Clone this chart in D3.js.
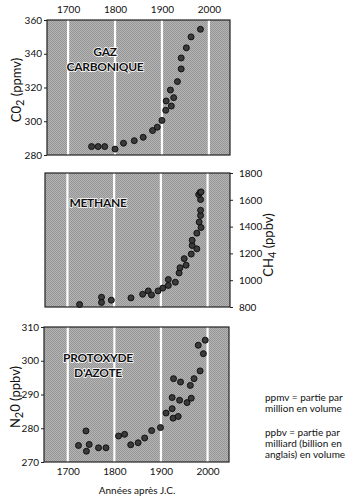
<!DOCTYPE html>
<html><head><meta charset="utf-8">
<script src="https://cdn.jsdelivr.net/npm/d3@7"></script>
<style>
body{margin:0;background:#fff;}
text{font-family:Lato,"Open Sans",sans-serif;fill:#111;}
</style></head>
<body><svg id="c" width="357" height="496"></svg>
<script>
const yearTicks = [1700, 1800, 1900, 2000];
const co2Years = [1750,1764,1778,1800,1818,1841,1860,1880,1890,1900,1908,1909,1920,1918,1925,1933,1941,1941,1952,1962,1982];
const co2Values = [285,285,285,283.5,287,288.5,290.5,294.5,296.5,300.5,306.5,312,309,318.5,314,323.5,331,337.5,343.5,350,354.5];
const co2Ticks = [280,300,320,340,360];
const ch4Years = [1726,1773,1773,1794,1836,1861,1873,1880,1894,1904,1916,1916,1931,1939,1941,1950,1954,1965,1967,1967,1977,1977,1982,1986,1985,1985,1985,1981,1984,1986];
const ch4Values = [819,873,834,851,868,895,920,890,920,941,961,1005,985,1054,1093,1161,1112,1195,1259,1298,1234,1351,1434,1393,1483,1522,1602,1639,1654,1659];
const ch4Ticks = [800,1000,1200,1400,1600,1800];
const n2oYears = [1723,1739,1740,1746,1766,1782,1809,1822,1835,1851,1865,1880,1899,1911,1926,1924,1924,1927,1937,1940,1942,1956,1963,1965,1971,1984,1980,1991,1995];
const n2oValues = [274.9,279.2,273.2,275.2,274.2,274.2,277.7,278.2,275.1,275.7,277.1,279.3,280.2,284.5,283,289.1,285.8,294.7,283.5,288.3,293.7,287.6,292.7,288.9,294.7,297,304.6,302.1,306.1];
const n2oTicks = [270,280,290,300,310];

const svg = d3.select("#c");
const defs = svg.append("defs");
const pat = defs.append("pattern").attr("id","ht").attr("width",2).attr("height",2).attr("patternUnits","userSpaceOnUse");
pat.append("rect").attr("width",2).attr("height",2).attr("fill","#b4b4b4");
pat.append("rect").attr("width",1).attr("height",1).attr("fill","#969696");
pat.append("rect").attr("x",1).attr("y",1).attr("width",1).attr("height",1).attr("fill","#969696");

const FONT = "Lato,'Open Sans',sans-serif";
function styleAxis(sel){
  sel.select(".domain").remove();
  sel.selectAll("line").attr("stroke","#222");
  sel.selectAll("text").attr("font-size",10).style("font-family",FONT).attr("fill","#111");
}
function panel(o){
  const x = d3.scaleLinear().domain(o.xd).range([o.x0,o.x1]);
  const y = d3.scaleLinear().domain(o.yd).range([o.y1,o.y0]);
  const g = svg.append("g");
  g.append("rect").attr("x",o.x0).attr("y",o.y0).attr("width",o.x1-o.x0).attr("height",o.y1-o.y0).attr("fill","url(#ht)");
  g.selectAll("line.v").data(yearTicks).join("line").attr("class","v")
    .attr("x1",d=>x(d)).attr("x2",d=>x(d)).attr("y1",o.y0).attr("y2",o.y1)
    .attr("stroke","#fff").attr("stroke-width",2.2);
  g.append("rect").attr("x",o.x0).attr("y",o.y0).attr("width",o.x1-o.x0).attr("height",o.y1-o.y0)
    .attr("fill","none").attr("stroke","#222").attr("stroke-width",1.2);
  const ax = (o.right ? d3.axisRight(y) : d3.axisLeft(y)).tickValues(o.yt).tickFormat(d3.format("d")).tickSize(3).tickPadding(o.right?6:2);
  styleAxis(g.append("g").attr("transform",`translate(${o.right?o.x1:o.x0},0)`).call(ax));
  if(o.top){
    styleAxis(g.append("g").attr("transform",`translate(0,${o.y0})`).call(d3.axisTop(x).tickValues(yearTicks).tickFormat(d3.format("d")).tickSize(0).tickPadding(7)));
  }
  if(o.bottom){
    styleAxis(g.append("g").attr("transform",`translate(0,${o.y1})`).call(d3.axisBottom(x).tickValues(yearTicks).tickFormat(d3.format("d")).tickSize(0).tickPadding(6)));
  }
  g.selectAll("circle").data(o.xs.map((d,i)=>[d,o.ys[i]])).join("circle")
    .attr("cx",d=>x(d[0])).attr("cy",d=>y(d[1])).attr("r",3)
    .attr("fill","#3a3a3a").attr("stroke","#0a0a0a").attr("stroke-width",0.9);
  o.title.forEach((t,i)=>{
    g.append("text").attr("x",o.tx).attr("y",o.ty+i*15).attr("text-anchor","middle")
      .attr("font-size",12).attr("font-weight","bold").attr("stroke","#fff").attr("stroke-width",1.5)
      .attr("paint-order","stroke").attr("letter-spacing","-0.3").text(t);
  });
  return g;
}

panel({x0:47,x1:230,y0:20,y1:155,xd:[1655,2045],yd:[280,360],yt:co2Ticks,xs:co2Years,ys:co2Values,
  top:true,title:["GAZ","CARBONIQUE"],tx:105,ty:56});
panel({x0:45,x1:230,y0:173,y1:307,xd:[1652,2048],yd:[800,1800],yt:ch4Ticks,xs:ch4Years,ys:ch4Values,
  right:true,title:["METHANE"],tx:98,ty:207});
panel({x0:44,x1:229,y0:327,y1:462,xd:[1649,2046],yd:[270,310],yt:n2oTicks,xs:n2oYears,ys:n2oValues,
  bottom:true,title:["PROTOXYDE","D'AZOTE"],tx:98,ty:362});

function ylab(x,y,rot,parts){
  const t = svg.append("text").attr("transform",`translate(${x},${y}) rotate(${rot})`)
    .attr("text-anchor","middle").attr("font-size",13);
  parts.forEach(p=>{
    const s = t.append("tspan").text(p.t);
    if(p.sub){ s.attr("baseline-shift","-25%").attr("font-size",11); }
  });
}
ylab(21,90,-90,[{t:"C0"},{t:"2",sub:true},{t:" (ppmv)"}]);
ylab(273,245,-90,[{t:"CH"},{t:"4",sub:true},{t:" (ppbv)"}]);
ylab(20,397,-90,[{t:"N"},{t:"2",sub:true},{t:"0 (ppbv)"}]);

svg.append("text").attr("x",137).attr("y",494).attr("text-anchor","middle").attr("font-size",10).text("Années après J.C.");

const notes = [["ppmv = partie par",401],["million en volume",412],["ppbv = partie par",436],["milliard (billion en",447],["anglais) en volume",458]];
svg.selectAll("text.note").data(notes).join("text").attr("class","note")
  .attr("x",265).attr("y",d=>d[1]).attr("font-size",10).text(d=>d[0]);
</script></body></html>
